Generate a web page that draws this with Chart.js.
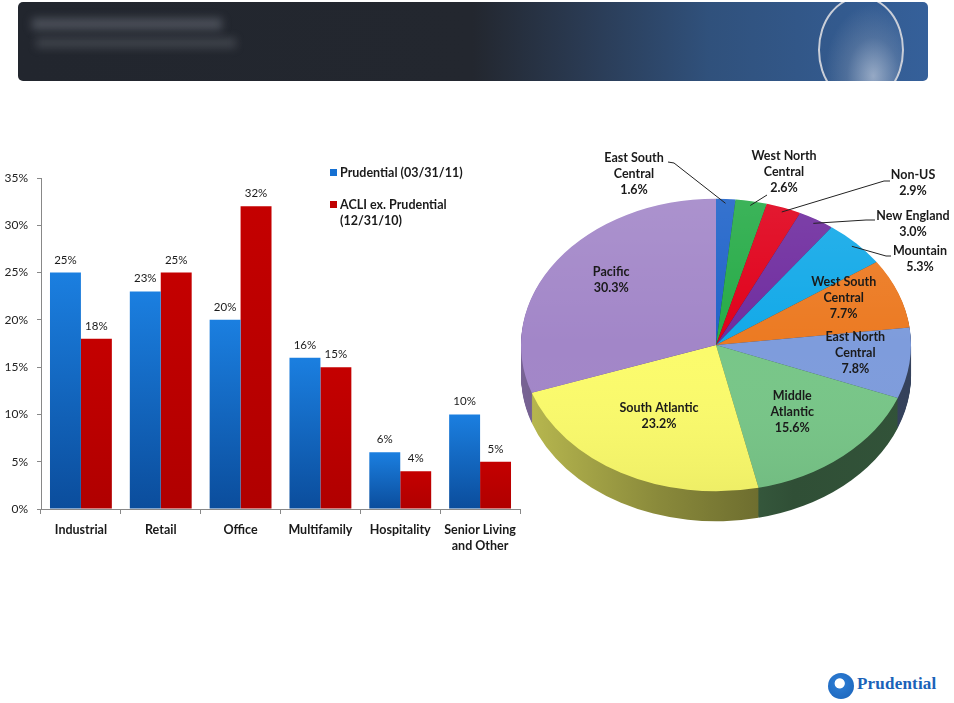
<!DOCTYPE html>
<html>
<head>
<meta charset="utf-8">
<script src="https://cdn.jsdelivr.net/npm/chart.js@4.4.1/dist/chart.umd.min.js"></script>
<style>
  html,body{margin:0;padding:0;background:#fff;}
  body{width:954px;height:703px;position:relative;overflow:hidden;font-family:Lato,"Open Sans",sans-serif;}
  #header{position:absolute;left:18px;top:2px;width:910px;height:79px;border-radius:5px;overflow:hidden;
    background:linear-gradient(90deg,#22262e 0%,#23272f 50%,#2a3a52 62%,#30517c 76%,#35609a 100%);}
  #header .blur1{position:absolute;left:14px;top:16px;width:190px;height:12px;background:rgba(150,155,165,0.35);filter:blur(4px);}
  #header .blur2{position:absolute;left:18px;top:36px;width:200px;height:10px;background:rgba(150,155,165,0.25);filter:blur(4px);}
  #header .rock{position:absolute;left:800px;top:-6px;width:82px;height:104px;border:2px solid #c9ced8;border-radius:50%;
    background:radial-gradient(ellipse at 65% 75%,rgba(230,232,238,0.55) 0%,rgba(180,186,198,0.22) 35%,rgba(53,96,154,0) 65%);}
  #barCanvas{position:absolute;left:0;top:150px;}
  #pieCanvas{position:absolute;left:500px;top:140px;}
  .lg{position:absolute;font:bold 12.5px Lato,sans-serif;color:#1a1a1a;line-height:16px;white-space:nowrap;}
  .sw{position:absolute;width:7px;height:7px;}
  #logo{position:absolute;left:828px;top:673px;width:26px;height:26px;border-radius:50%;
    background:radial-gradient(circle at 45% 40%,#ffffff 0%,#ffffff 22%,#2a78cf 26%,#1a62b8 100%);}
  #logoText{position:absolute;left:857px;top:674px;font:bold 17px "Liberation Serif",serif;color:#1a62b8;letter-spacing:0.2px;}
</style>
</head>
<body>
<div id="header"><div class="blur1"></div><div class="blur2"></div><div class="rock"></div></div>

<canvas id="barCanvas" width="530" height="420"></canvas>
<canvas id="pieCanvas" width="454" height="400"></canvas>

<div class="sw" style="left:330px;top:169px;background:#1670d2;"></div>
<div class="lg" style="left:340px;top:165px;">Prudential (03/31/11)</div>
<div class="sw" style="left:330px;top:201px;background:#c00000;"></div>
<div class="lg" style="left:340px;top:197px;">ACLI ex. Prudential<br>(12/31/10)</div>

<div id="logo"></div>
<div id="logoText">Prudential</div>

<script>
// ---------- DATA ----------
const categories = ['Industrial', 'Retail', 'Office', 'Multifamily', 'Hospitality', ['Senior Living', 'and Other']];
const prudentialShare = [25, 23, 20, 16, 6, 10];
const acliShare = [18, 25, 32, 15, 4, 5];
const seriesNames = ['Prudential (03/31/11)', 'ACLI ex. Prudential (12/31/10)'];
const yTickValues = [0, 5, 10, 15, 20, 25, 30, 35];

const regionLines = [
  ['East South', 'Central'], ['West North', 'Central'], ['Non-US'], ['New England'], ['Mountain'],
  ['West South', 'Central'], ['East North', 'Central'], ['Middle', 'Atlantic'], ['South Atlantic'], ['Pacific']
];
const regionShare = [1.6, 2.6, 2.9, 3.0, 5.3, 7.7, 7.8, 15.6, 23.2, 30.3];
const regionColors = ['#1f63c9', '#26ab47', '#e0001a', '#6f2c9f', '#12a9e8', '#ec7a22', '#7e9cdc', '#78c688', '#fbfb6c', '#a286c8'];

// ---------- BAR CHART ----------
const FONT = 'Lato, "Open Sans", sans-serif';
function barGradient(ctx, top, bottom) {
  const chart = ctx.chart;
  const y = chart.scales.y;
  const v = ctx.raw;
  if (!y || v === undefined) return top;
  const y0 = y.getPixelForValue(0), y1 = y.getPixelForValue(v);
  if (!isFinite(y0) || !isFinite(y1) || y0 === y1) return top;
  const g = chart.ctx.createLinearGradient(0, y1, 0, y0);
  g.addColorStop(0, top);
  g.addColorStop(1, bottom);
  return g;
}

const barLabels = {
  id: 'barLabels',
  afterDatasetsDraw(chart) {
    const ctx = chart.ctx;
    ctx.save();
    ctx.font = '11.5px ' + FONT;
    ctx.fillStyle = '#1a1a1a';
    ctx.textAlign = 'center';
    ctx.textBaseline = 'alphabetic';
    chart.data.datasets.forEach((ds, di) => {
      chart.getDatasetMeta(di).data.forEach((el, i) => {
        ctx.fillText(ds.data[i] + '%', el.x, el.y - 9);
      });
    });
    ctx.restore();
  }
};

new Chart(document.getElementById('barCanvas'), {
  type: 'bar',
  data: {
    labels: categories,
    datasets: [
      { label: seriesNames[0], data: prudentialShare,
        backgroundColor: c => barGradient(c, '#1b7fe0', '#0b4d9c'),
        categoryPercentage: 0.775, barPercentage: 1.0 },
      { label: seriesNames[1], data: acliShare,
        backgroundColor: c => barGradient(c, '#c40000', '#b00000'),
        categoryPercentage: 0.775, barPercentage: 1.0 }
    ]
  },
  options: {
    responsive: false,
    animation: false,
    devicePixelRatio: 1,
    layout: { padding: { top: 28, right: 10, left: 0, bottom: 0 } },
    plugins: { legend: { display: false }, tooltip: { enabled: false } },
    scales: {
      y: {
        min: 0, max: 35,
        afterBuildTicks: s => { s.ticks = yTickValues.map(v => ({ value: v })); },
        afterFit: s => { s.width = 41; },
        ticks: { callback: v => v + '%', font: { family: FONT, size: 12 }, color: '#222', padding: 9 },
        grid: { drawOnChartArea: false, tickLength: 4, color: '#888' },
        border: { color: '#888' }
      },
      x: {
        afterFit: s => { s.height = 61; },
        ticks: { font: { family: FONT, size: 12.5, weight: 'bold', lineHeight: 1.3 }, color: '#1a1a1a', padding: 8, maxRotation: 0 },
        grid: { offset: true, drawOnChartArea: false, tickLength: 5, color: '#888' },
        border: { color: '#888' }
      }
    }
  },
  plugins: [barLabels]
});

// ---------- 3D PIE ----------
const TILT = 0.75;
const DEPTH = 30;
function shade(hex, f) {
  const n = parseInt(hex.slice(1), 16);
  const r = Math.round(((n >> 16) & 255) * f), g = Math.round(((n >> 8) & 255) * f), b = Math.round((n & 255) * f);
  return `rgb(${r},${g},${b})`;
}
// outside-label layout (canvas coords): text centre and leader start points
const outsideLayout = [
  { x: 134, y: 34, lead: [[168, 22], [174, 23]] },
  { x: 284, y: 32, lead: [[267, 55]] },
  { x: 413, y: 43, lead: [[390, 41], [384, 41]] },
  { x: 413, y: 84, lead: [[375, 80], [366, 80]] },
  { x: 420, y: 119, lead: [[391, 116], [386, 116]] }
];
const insideFactor = [0, 0, 0, 0, 0, 0.70, 0.72, 0.60, 0.60, 0.66];
const insideShift = [0, 0, 0, 0, 0, -11, -5, 0, -6, -9];

const pie3d = {
  id: 'pie3d',
  beforeDatasetsDraw(chart) {
    const ctx = chart.ctx;
    const meta = chart.getDatasetMeta(0);
    const a0 = meta.data[0];
    const cx = a0.x, cy = a0.y, r = a0.outerRadius;
    const grads = regionColors.map(col => {
      const g = ctx.createLinearGradient(-r, 0, r, 0);
      g.addColorStop(0, shade(col, 0.74));
      g.addColorStop(0.35, shade(col, 0.55));
      g.addColorStop(0.7, shade(col, 0.40));
      g.addColorStop(1, shade(col, 0.42));
      return g;
    });
    for (let d = DEPTH; d >= 1; d--) {
      ctx.save();
      ctx.translate(cx, cy + d);
      ctx.scale(1, TILT);
      meta.data.forEach((el, i) => {
        ctx.beginPath();
        ctx.moveTo(0, 0);
        ctx.arc(0, 0, el.outerRadius, el.startAngle, el.endAngle);
        ctx.closePath();
        ctx.fillStyle = grads[i];
        ctx.fill();
      });
      ctx.restore();
    }
    ctx.save();
    ctx.translate(cx, cy);
    ctx.scale(1, TILT);
    ctx.translate(-cx, -cy);
  },
  afterDatasetsDraw(chart) {
    const ctx = chart.ctx;
    const meta = chart.getDatasetMeta(0);
    const a0 = meta.data[0];
    const cx = a0.x, cy = a0.y, r = a0.outerRadius;
    const g = ctx.createLinearGradient(0, cy - r, 0, cy + r);
    g.addColorStop(0, 'rgba(255,255,255,0.10)');
    g.addColorStop(0.5, 'rgba(255,255,255,0)');
    g.addColorStop(1, 'rgba(0,0,0,0.05)');
    ctx.beginPath();
    ctx.arc(cx, cy, r, 0, Math.PI * 2);
    ctx.fillStyle = g;
    ctx.fill();
    ctx.restore();

    ctx.save();
    ctx.font = 'bold 12.5px ' + FONT;
    ctx.fillStyle = '#1a1a1a';
    ctx.textAlign = 'center';
    ctx.textBaseline = 'middle';
    const LH = 16;
    meta.data.forEach((el, i) => {
      const mid = (el.startAngle + el.endAngle) / 2;
      const lines = regionLines[i].concat([regionShare[i].toFixed(1) + '%']);
      let tx, ty;
      if (i < outsideLayout.length) {
        const L = outsideLayout[i];
        tx = L.x; ty = L.y;
        const ex = cx + Math.cos(mid) * r * 0.97, ey = cy + Math.sin(mid) * r * 0.97 * TILT;
        ctx.save();
        ctx.strokeStyle = '#222';
        ctx.lineWidth = 1;
        ctx.beginPath();
        ctx.moveTo(L.lead[0][0], L.lead[0][1]);
        for (let k = 1; k < L.lead.length; k++) ctx.lineTo(L.lead[k][0], L.lead[k][1]);
        ctx.lineTo(ex, ey);
        ctx.stroke();
        ctx.restore();
      } else {
        const f = insideFactor[i];
        tx = cx + Math.cos(mid) * r * f;
        ty = cy + Math.sin(mid) * r * f * TILT + insideShift[i];
      }
      const y0 = ty - (lines.length - 1) * LH / 2;
      lines.forEach((t, k) => ctx.fillText(t, tx, y0 + k * LH));
    });
    ctx.restore();
  }
};

new Chart(document.getElementById('pieCanvas'), {
  type: 'pie',
  data: {
    labels: regionLines.map(l => l.join(' ')),
    datasets: [{ data: regionShare, backgroundColor: regionColors, borderWidth: 0 }]
  },
  options: {
    responsive: false,
    animation: false,
    devicePixelRatio: 1,
    layout: { padding: { left: 21, right: 43, top: 10, bottom: 0 } },
    plugins: { legend: { display: false }, tooltip: { enabled: false } }
  },
  plugins: [pie3d]
});
</script>
</body>
</html>
